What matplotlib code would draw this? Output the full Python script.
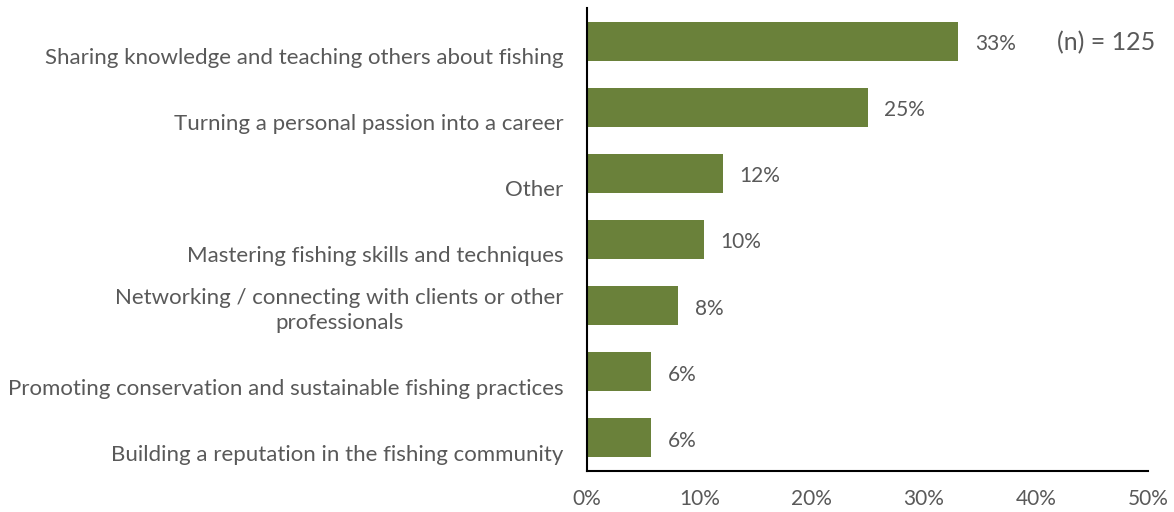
import matplotlib.pyplot as plt

# survey answers, top to bottom
labels = [
    "Sharing knowledge and teaching others about fishing",
    "Turning a personal passion into a career",
    "Other",
    "Mastering fishing skills and techniques",
    "Networking / connecting with clients or other\nprofessionals",
    "Promoting conservation and sustainable fishing practices",
    "Building a reputation in the fishing community",
]
values = [33.1, 25.0, 12.1, 10.4, 8.1, 5.7, 5.7]
xticks = [0, 10, 20, 30, 40, 50]
n_resp = 125

green = "#6a813a"
grey = "#595959"

plt.rcParams['font.family'] = ['Lato', 'DejaVu Sans']

fig = plt.figure(figsize=(11.74, 5.12), dpi=100)
ax = fig.add_axes([0.5, 0.08, 0.478, 0.904])

pos = list(range(len(labels)))[::-1]
ax.barh(pos, values, height=0.59, color=green)

for y, v in zip(pos, values):
    ax.annotate(f"{v:.0f}%", (v, y), xytext=(12, -2), textcoords="offset points",
                va="center", ha="left", fontsize=15, color=grey)

# single-line labels sit on the lower line of a two-line slot
ylabels = [l if "\n" in l else "\n" + l for l in labels]

ax.set_xlim(0, 50)
ax.set_ylim(-0.5, 6.5)
ax.set_xticks(xticks)
ax.set_xticklabels([f"{t}%" for t in xticks])
ax.set_yticks(pos)
ax.set_yticklabels(ylabels)
for t in ax.get_yticklabels():
    t.set_linespacing(1.3)
    t.set_multialignment("center")
ax.tick_params(axis="x", length=0, pad=13, labelsize=15, labelcolor=grey)
ax.tick_params(axis="y", length=0, pad=17, labelsize=16, labelcolor=grey)

for s in ["top", "right"]:
    ax.spines[s].set_visible(False)
for s in ["left", "bottom"]:
    ax.spines[s].set_linewidth(1.5)
    ax.spines[s].set_color("black")

fig.text(0.9, 0.917, f"(n) = {n_resp}", fontsize=18, color=grey, ha="left", va="center")

fig.savefig("out.png", dpi=100)
